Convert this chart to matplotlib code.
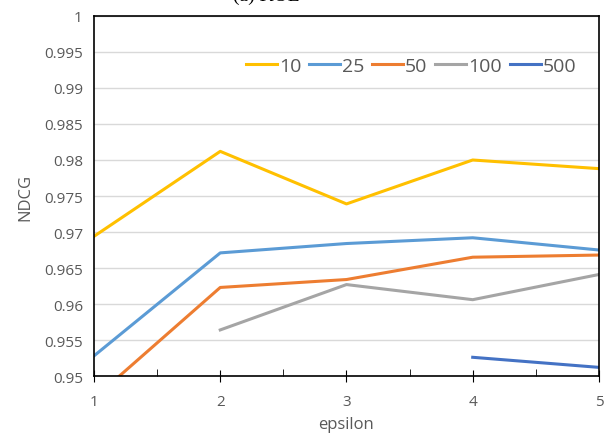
import numpy as np
import matplotlib
matplotlib.use('Agg')
from matplotlib import pyplot as plt

eps = [1, 2, 3, 4, 5]
names = ['10', '25', '50', '100', '500']
ndcg_10 = [0.9694, 0.9812, 0.9739, 0.9800, 0.9788]
ndcg_25 = [0.9528, 0.9671, 0.9684, 0.9692, 0.9675]
ndcg_50 = [0.9469, 0.9623, 0.9634, 0.9665, 0.9668]
ndcg_100 = [np.nan, 0.9564, 0.9627, 0.9606, 0.9641]
ndcg_500 = [np.nan, np.nan, np.nan, 0.9526, 0.9512]
colors = ['#FFC000', '#5B9BD5', '#ED7D31', '#A5A5A5', '#4472C4']

plt.rcParams['font.family'] = ['Open Sans', 'DejaVu Sans']

fig = plt.figure(figsize=(6.05, 4.39), dpi=100)
ax = fig.add_axes([0.1554, 0.1412, 0.8346, 0.8201])

for vals, name, c in zip([ndcg_10, ndcg_25, ndcg_50, ndcg_100, ndcg_500], names, colors):
    ax.plot(eps, vals, color=c, lw=2.2, label=name)

ax.set_xlim(1, 5)
ax.set_ylim(0.95, 1.0)
ax.set_yticks(np.arange(0.95, 1.0001, 0.005))
ax.set_yticklabels(['0.95', '0.955', '0.96', '0.965', '0.97', '0.975', '0.98',
                    '0.985', '0.99', '0.995', '1'])
ax.set_xticks(eps)
ax.set_xticks([1.5, 2.5, 3.5, 4.5], minor=True)
ax.grid(axis='y', color='#D9D9D9', lw=1)
ax.set_axisbelow(True)
ax.tick_params(axis='y', length=0, labelsize=11, labelcolor='#595959', pad=8)
ax.tick_params(axis='x', which='major', direction='inout', length=8, labelsize=11,
               labelcolor='#595959', pad=9)
ax.tick_params(axis='x', which='minor', direction='in', length=5)
for s in ax.spines.values():
    s.set_color('black')
    s.set_linewidth(1.2)

ax.set_xlabel('epsilon', fontsize=12, color='#595959', labelpad=5)
ax.set_ylabel('NDCG', fontsize=12, color='#595959', labelpad=8)

ax.legend(loc='upper right', bbox_to_anchor=(0.99, 0.935), ncol=5, frameon=False,
          fontsize=14, handlelength=1.6, handletextpad=0.1, columnspacing=0.4,
          labelcolor='#595959')

# title is mostly cut off at the top in the original
fig.text(0.44, 0.988, '(a) KOL', ha='center', va='bottom', fontsize=14,
         family='Liberation Serif')

fig.savefig('out.png', dpi=100)
